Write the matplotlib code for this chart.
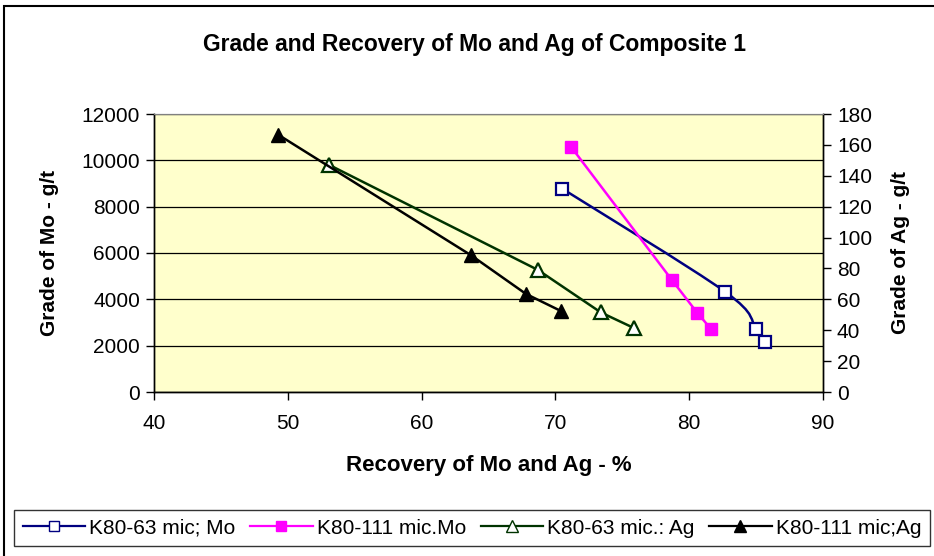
import matplotlib.pyplot as plt
from matplotlib.path import Path
from matplotlib.patches import PathPatch, Rectangle
from matplotlib.lines import Line2D

plt.rcParams['font.family'] = ['Liberation Sans', 'DejaVu Sans']

# recovery (%) and grade for each test
rec_63_mo = [70.5, 82.7, 85.0, 85.7]
grade_63_mo = [8780, 4320, 2740, 2160]

rec_111_mo = [71.2, 78.7, 80.6, 81.6]
grade_111_mo = [10560, 4840, 3420, 2740]

rec_63_ag = [53.1, 68.7, 73.4, 75.85]
grade_63_ag = [147, 79, 51.5, 41.5]

rec_111_ag = [49.3, 63.7, 67.8, 70.4]
grade_111_ag = [166.5, 88.5, 63.5, 52.5]

labels = ['K80-63 mic; Mo', 'K80-111 mic.Mo', 'K80-63 mic.: Ag', 'K80-111 mic;Ag']

# plot box in pixels, used for the smoothing of the line
box_w, box_h = 669, 278


def smooth_path(xs, ys, xr, yr):
    # bezier segments like a spreadsheet "smoothed line", tangents in screen units
    sx = box_w / (xr[1] - xr[0])
    sy = box_h / (yr[1] - yr[0])
    pts = [(x * sx, y * sy) for x, y in zip(xs, ys)]
    n = len(pts)
    verts = [pts[0]]
    codes = [Path.MOVETO]
    for i in range(n - 1):
        p0 = pts[i - 1] if i > 0 else pts[i]
        p1 = pts[i]
        p2 = pts[i + 1]
        p3 = pts[i + 2] if i + 2 < n else pts[i + 1]
        c1 = (p1[0] + (p2[0] - p0[0]) / 6, p1[1] + (p2[1] - p0[1]) / 6)
        c2 = (p2[0] - (p3[0] - p1[0]) / 6, p2[1] - (p3[1] - p1[1]) / 6)
        verts += [c1, c2, p2]
        codes += [Path.CURVE4] * 3
    verts = [(x / sx, y / sy) for x, y in verts]
    return Path(verts, codes)


fig = plt.figure(figsize=(9.34, 5.56), dpi=100)
fig.patch.set_facecolor('white')

# outer chart border
fig.patches.append(Rectangle((4 / 934, -0.05), 1.2, 1 - 6 / 556 + 0.05,
                             transform=fig.transFigure, fill=False,
                             edgecolor='black', linewidth=1.5, zorder=0))

ax = fig.add_axes([154 / 934, 1 - 392 / 556, box_w / 934, box_h / 556])
ax.set_facecolor('#FFFFCC')
ax2 = ax.twinx()

ax.set_xlim(40, 90)
ax.set_ylim(0, 12000)
ax2.set_ylim(0, 180)
ax.set_xticks(range(40, 91, 10))
ax.set_yticks(range(0, 12001, 2000))
ax2.set_yticks(range(0, 181, 20))
ax.grid(axis='y', color='black', linewidth=0.9)
ax.set_axisbelow(True)

for a in (ax, ax2):
    a.tick_params(direction='out', length=6, width=1, labelsize=15, pad=4)
    for s in ('left', 'bottom', 'right'):
        a.spines[s].set_color('black')
        a.spines[s].set_linewidth(1)
    a.spines['top'].set_color('#808080')
ax.tick_params(axis='x', pad=10)

# Mo series on the left axis
navy = '#000080'
ax.add_patch(PathPatch(smooth_path(rec_63_mo, grade_63_mo, (40, 90), (0, 12000)),
                       fill=False, edgecolor=navy, linewidth=1.8, zorder=3))
ax.plot(rec_63_mo, grade_63_mo, linestyle='none', marker='s', markersize=8,
        markerfacecolor='white', markeredgecolor=navy, markeredgewidth=1.6, zorder=4)
ax.plot(rec_111_mo, grade_111_mo, color='#FF00FF', linewidth=1.8, marker='s',
        markersize=8, markerfacecolor='#FF00FF', markeredgecolor='#FF00FF', zorder=4)

# Ag series on the right axis
green = '#003300'
ax2.plot(rec_63_ag, grade_63_ag, color=green, linewidth=1.8, marker='^',
         markersize=10, markerfacecolor='white', markeredgecolor=green,
         markeredgewidth=1.6, zorder=4)
ax2.plot(rec_111_ag, grade_111_ag, color='black', linewidth=1.8, marker='^',
         markersize=10, markerfacecolor='black', markeredgecolor='black', zorder=4)

ax.set_xlabel('Recovery of Mo and Ag - %', fontsize=16, fontweight='bold', labelpad=16)
ax.set_ylabel('Grade of Mo - g/t', fontsize=15, fontweight='bold', labelpad=16)
ax2.set_ylabel('Grade of Ag - g/t', fontsize=15, fontweight='bold', labelpad=14)
fig.text(475 / 934, 1 - 45 / 556, 'Grade and Recovery of Mo and Ag of Composite 1',
         ha='center', va='center', fontsize=16.5, fontweight='bold')

handles = [
    Line2D([], [], color=navy, linewidth=1.6, marker='s', markersize=7,
           markerfacecolor='white', markeredgecolor=navy),
    Line2D([], [], color='#FF00FF', linewidth=1.6, marker='s', markersize=7,
           markerfacecolor='#FF00FF', markeredgecolor='#FF00FF'),
    Line2D([], [], color=green, linewidth=1.6, marker='^', markersize=8,
           markerfacecolor='white', markeredgecolor=green),
    Line2D([], [], color='black', linewidth=1.6, marker='^', markersize=8,
           markerfacecolor='black'),
]
leg = fig.legend(handles, labels, loc='center', ncol=4,
                 bbox_to_anchor=(472 / 934, 1 - 528 / 556), fontsize=15,
                 frameon=True, fancybox=False, edgecolor='black',
                 handlelength=3.0, handletextpad=0.2, columnspacing=0.7,
                 borderpad=0.4)
leg.get_frame().set_linewidth(1)

fig.savefig('out.png', dpi=100)
